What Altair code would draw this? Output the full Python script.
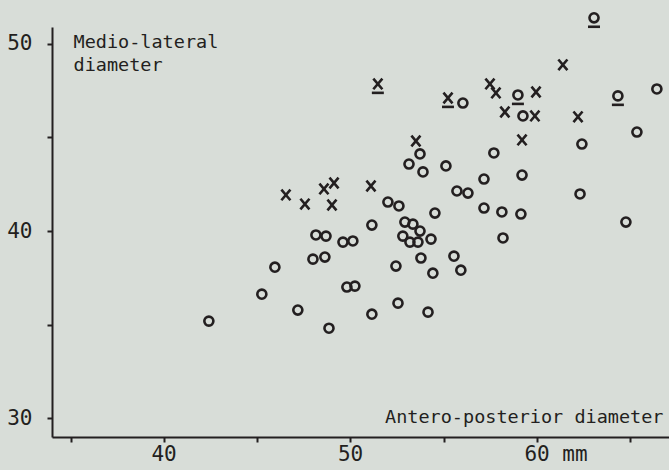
import altair as alt
import pandas as pd

# Antero-posterior diameter (mm)
ap = [46.54, 47.56, 48.58, 49.12, 49.01, 51.10, 53.51, 57.48, 57.80, 58.28,
      59.20, 59.95, 59.89, 61.39, 62.20,
      51.47, 55.23,
      58.98, 63.06, 64.34,
      42.41, 45.25, 45.95, 47.18, 47.99, 48.63, 48.15, 48.69, 49.60, 50.13,
      48.85, 49.81, 50.24, 51.15, 51.15, 52.01, 52.60, 52.44, 52.55, 52.92,
      53.35, 52.81, 53.19, 53.62, 53.73, 54.32, 53.78, 54.16, 54.42, 53.73,
      53.14, 53.89, 55.12, 54.53, 55.55, 55.71, 56.30, 55.92, 56.03, 57.16,
      57.16, 57.69, 58.12, 58.18, 59.14, 59.20, 59.25, 62.31, 62.41, 64.77,
      65.36, 66.43]
# Medio-lateral diameter (mm)
ml = [41.93, 41.44, 42.25, 42.57, 41.39, 42.41, 44.81, 47.86, 47.38, 46.36,
      44.87, 47.43, 46.15, 48.88, 46.10,
      47.86, 47.11,
      47.27, 51.39, 47.22,
      35.19, 36.63, 38.07, 35.78, 38.50, 38.61, 39.79, 39.73, 39.41, 39.47,
      34.81, 37.01, 37.06, 40.32, 35.56, 41.55, 41.34, 38.13, 36.15, 40.48,
      40.37, 39.73, 39.41, 39.41, 40.00, 39.57, 38.56, 35.67, 37.75, 44.12,
      43.58, 43.16, 43.48, 40.96, 38.66, 42.14, 42.03, 37.91, 46.84, 42.78,
      41.23, 44.17, 41.02, 39.63, 40.91, 42.99, 46.15, 41.98, 44.65, 40.48,
      45.29, 47.59]
# marker symbol
kind = ["x"] * 17 + ["o"] * 55
# underlined marker (1) or not (0)
under = [0] * 15 + [1] * 5 + [0] * 52

df = pd.DataFrame({"ap": ap, "ml": ml, "kind": kind, "under": under})

INK = "#231f20"
BG = "#d8ddd8"
X_PATH = "M-1.0,-1.18L1.0,1.18M-1.0,1.18L1.0,-1.18"
U_PATH = "M-1.34,2.0L1.34,2.0"

xs = alt.Scale(domain=[34, 67.08], nice=False, zero=False)
ys = alt.Scale(domain=[29, 50.9], nice=False, zero=False)

x_axis = alt.Axis(
    values=[35, 40, 45, 50, 55, 60, 65],
    labelExpr="datum.value == 60 ? '60 mm' : (datum.value % 10 == 0 ? '' + datum.value : '')",
    title="Antero-posterior diameter",
    titleX=611, titleY=-15, titleAlign="right", titleBaseline="alphabetic",
    labelAlign="left", labelOffset=-13, labelPadding=1, tickSize=5, grid=False,
    labelOverlap=False, labelFlush=False,
)
y_axis = alt.Axis(
    values=[30, 35, 40, 45, 50],
    labelExpr="datum.value % 10 == 0 ? '' + datum.value : ''",
    title=["Medio-lateral", "diameter"],
    titleAngle=0, titleX=21, titleY=20, titleAlign="left", titleBaseline="alphabetic",
    titleLineHeight=23, labelPadding=15, tickSize=5, grid=False,
    labelOverlap=False, labelFlush=False,
)

X = alt.X("ap:Q", scale=xs, axis=x_axis)
Y = alt.Y("ml:Q", scale=ys, axis=y_axis)

base = alt.Chart(df)

pts = base.mark_point(filled=False, strokeWidth=2.6, size=82, opacity=1, color=INK).encode(
    x=X, y=Y,
    shape=alt.Shape("kind:N", scale=alt.Scale(domain=["o", "x"], range=["circle", X_PATH]), legend=None),
)

ul = base.transform_filter("datum.under == 1").mark_point(
    shape=U_PATH, filled=False, strokeWidth=2.6, size=80, opacity=1, color=INK
).encode(x=X, y=Y)

chart = alt.layer(pts, ul).properties(
    width=617, height=410,
    autosize=alt.AutoSizeParams(type="none"),
    padding={"left": 52, "top": 27, "right": 0, "bottom": 33},
    background=BG,
).configure_view(stroke=None).configure_axis(
    domainColor=INK, domainWidth=2, tickColor=INK, tickWidth=2,
    labelColor=INK, labelFont="DejaVu Sans Mono", labelFontSize=21,
    titleFont="DejaVu Sans Mono", titleFontSize=18.5, titleFontWeight="normal",
    titleColor=INK,
)

chart.save("out.html", embed_options={"renderer": "svg", "actions": False})
